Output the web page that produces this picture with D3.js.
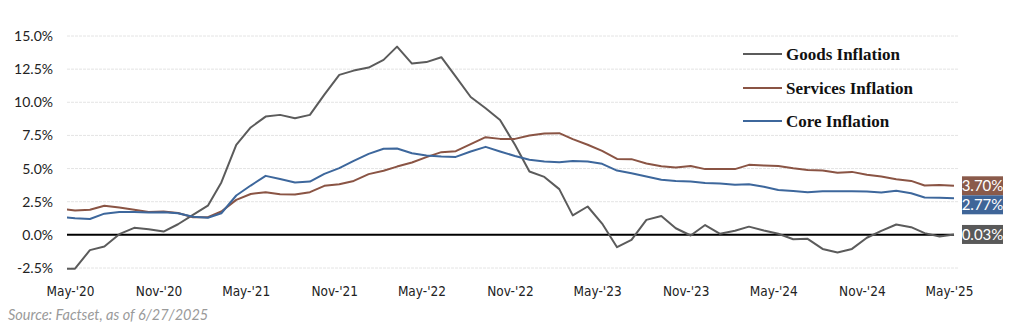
<!DOCTYPE html>
<html>
<head>
<meta charset="utf-8">
<script src="https://cdn.jsdelivr.net/npm/d3@7/dist/d3.min.js"></script>
<style>
  html, body { margin: 0; padding: 0; background: #fff; }
  svg { display: block; }
</style>
</head>
<body>
<svg id="chart" width="1024" height="333"></svg>
<script>
// Year-over-year inflation, monthly, Apr-2020 through May-2025 (%)
const goods = [
  -2.55, -2.55, -1.15, -0.88, 0.05, 0.53, 0.43, 0.25, 0.80, 1.50, 2.20, 3.95,
  6.78, 8.10, 8.92, 9.05, 8.80, 9.05, 10.58, 12.07, 12.39, 12.62, 13.20, 14.20,
  12.92, 13.03, 13.40, 11.94, 10.40, 9.55, 8.67, 6.79, 4.78, 4.37, 3.45, 1.47,
  2.14, 0.85, -0.93, -0.38, 1.13, 1.42, 0.50, -0.05, 0.74, 0.08, 0.31, 0.62,
  0.33, 0.08, -0.33, -0.30, -1.06, -1.33, -1.06, -0.22, 0.30, 0.78, 0.58, 0.13,
  -0.13, 0.03
];
const services = [
  1.96, 1.84, 1.89, 2.20, 2.06, 1.89, 1.72, 1.76, 1.65, 1.33, 1.33, 1.76,
  2.64, 3.08, 3.22, 3.07, 3.04, 3.22, 3.70, 3.82, 4.07, 4.58, 4.83, 5.15,
  5.46, 5.86, 6.24, 6.31, 6.84, 7.37, 7.24, 7.24, 7.49, 7.65, 7.67, 7.22,
  6.80, 6.33, 5.73, 5.71, 5.38, 5.17, 5.08, 5.20, 4.96, 4.96, 4.96, 5.28,
  5.23, 5.20, 5.03, 4.90, 4.85, 4.68, 4.75, 4.53, 4.40, 4.20, 4.07, 3.72,
  3.77, 3.70
];
const core = [
  1.36, 1.25, 1.20, 1.60, 1.73, 1.73, 1.68, 1.70, 1.63, 1.36, 1.29, 1.63,
  2.97, 3.72, 4.45, 4.21, 3.95, 4.02, 4.60, 5.03, 5.58, 6.11, 6.49, 6.51,
  6.16, 5.98, 5.91, 5.88, 6.29, 6.64, 6.29, 5.95, 5.66, 5.53, 5.48, 5.58,
  5.53, 5.36, 4.85, 4.65, 4.40, 4.15, 4.07, 4.02, 3.92, 3.87, 3.78, 3.82,
  3.63, 3.39, 3.30, 3.22, 3.29, 3.29, 3.29, 3.27, 3.19, 3.32, 3.14, 2.82,
  2.79, 2.77
];
const latestLabels = ["0.03%", "3.70%", "2.77%"];

const seriesNames = ["Goods Inflation", "Services Inflation", "Core Inflation"];
const seriesColors = ["#5b5b5b", "#8a5444", "#3d679c"];
const labelColors = ["#595959", "#8a5a4a", "#3f6598"];

const yTicks = [-2.5, 0, 2.5, 5, 7.5, 10, 12.5, 15];
const xTickLabels = ["May-'20", "Nov-'20", "May-'21", "Nov-'21", "May-'22", "Nov-'22",
                     "May-'23", "Nov-'23", "May-'24", "Nov-'24", "May-'25"];
const sourceNote = "Source: Factset, as of 6/27/2025";

// monthly dates matching the series; ticks every six months from May 2020
const months = d3.timeMonth.range(new Date(2020, 3, 1), new Date(2025, 5, 1));
const xTickDates = xTickLabels.map((d, i) => d3.timeMonth.offset(new Date(2020, 4, 1), 6 * i));

const svg = d3.select("#chart");
const plotLeft = 67, plotRight = 958;

const x = d3.scaleTime()
  .domain([new Date(2020, 4, 1), new Date(2025, 4, 1)])
  .range([75, 954]);
const y = d3.scaleLinear().domain([-2.5, 15]).range([268, 36]);

svg.append("defs").append("clipPath").attr("id", "plot-clip")
  .append("rect").attr("x", plotLeft).attr("y", 0)
  .attr("width", plotRight - plotLeft).attr("height", 333);

// horizontal gridlines
svg.append("g").selectAll("line").data(yTicks.filter(d => d !== 0)).join("line")
  .attr("x1", plotLeft).attr("x2", plotRight)
  .attr("y1", d => y(d)).attr("y2", d => y(d))
  .attr("stroke", "#e4e4e4").attr("stroke-width", 1)
  .attr("stroke-dasharray", "3,1");

// y axis labels
const yAxis = d3.axisLeft(y).tickValues(yTicks)
  .tickFormat(d => d.toFixed(1) + "%").tickSize(0).tickPadding(0);
svg.append("g").attr("transform", "translate(53,0)").call(yAxis)
  .call(g => g.select(".domain").remove())
  .selectAll("text")
  .attr("font-family", "Lato, 'Open Sans', sans-serif")
  .attr("font-size", 14).attr("fill", "#222");

// x axis labels (category labels sit a little left of the month points)
const xAxis = d3.axisBottom(x).tickValues(xTickDates)
  .tickFormat((d, i) => xTickLabels[i]).tickSize(0).tickPadding(0);
svg.append("g").attr("transform", "translate(-5,286)").call(xAxis)
  .call(g => g.select(".domain").remove())
  .selectAll("text")
  .attr("font-family", "'DejaVu Sans Condensed', 'DejaVu Sans', sans-serif")
  .attr("font-stretch", "condensed")
  .attr("font-size", 13.5).attr("fill", "#222");

// zero line
svg.append("line")
  .attr("x1", plotLeft).attr("x2", x(months[months.length - 1]))
  .attr("y1", y(0)).attr("y2", y(0))
  .attr("stroke", "#000").attr("stroke-width", 2);

// series lines
const allSeries = [goods, services, core];
const line = d3.line().x((d, i) => x(months[i])).y(d => y(d));
svg.append("g").attr("clip-path", "url(#plot-clip)")
  .selectAll("path").data(allSeries).join("path")
  .attr("d", d => line(d))
  .attr("fill", "none")
  .attr("stroke", (d, i) => seriesColors[i])
  .attr("stroke-width", 2)
  .attr("stroke-linejoin", "round");

// legend
const legendY = [54, 88, 121];
const legend = svg.append("g").selectAll("g").data(seriesNames).join("g")
  .attr("transform", (d, i) => `translate(743,${legendY[i]})`);
legend.append("line").attr("x1", 0).attr("x2", 39)
  .attr("stroke", (d, i) => seriesColors[i]).attr("stroke-width", 2);
legend.append("text").attr("x", 43).attr("dy", "0.34em")
  .attr("font-family", "'Liberation Serif', 'DejaVu Serif', serif")
  .attr("font-weight", "bold").attr("font-size", 17).attr("fill", "#111")
  .text(d => d);

// latest-value tags at the right edge, stacked so they do not overlap
const boxH = 19, boxW = 41;
const lastVals = allSeries.map(s => s[s.length - 1]);
const order = d3.range(3).sort((a, b) => lastVals[b] - lastVals[a]);
let prevBottom = -Infinity;
const tops = [];
order.forEach(i => {
  let top = y(lastVals[i]) - boxH / 2;
  if (top < prevBottom) top = prevBottom;
  tops[i] = top;
  prevBottom = top + boxH;
});
const tags = svg.append("g").selectAll("g").data(d3.range(3)).join("g")
  .attr("transform", i => `translate(962,${tops[i]})`);
tags.append("rect").attr("width", boxW).attr("height", boxH)
  .attr("fill", i => labelColors[i]);
tags.append("text").attr("x", boxW / 2).attr("y", boxH / 2).attr("dy", "0.36em")
  .attr("text-anchor", "middle")
  .attr("font-family", "Lato, 'Open Sans', sans-serif")
  .attr("font-size", 15).attr("fill", "#fff")
  .text(i => latestLabels[i]);

// source note
svg.append("text").attr("x", 8).attr("y", 320)
  .attr("font-family", "Lato, 'Open Sans', sans-serif")
  .attr("font-style", "italic").attr("font-size", 14.5).attr("fill", "#9a9a9a")
  .text(sourceNote);
</script>
</body>
</html>
